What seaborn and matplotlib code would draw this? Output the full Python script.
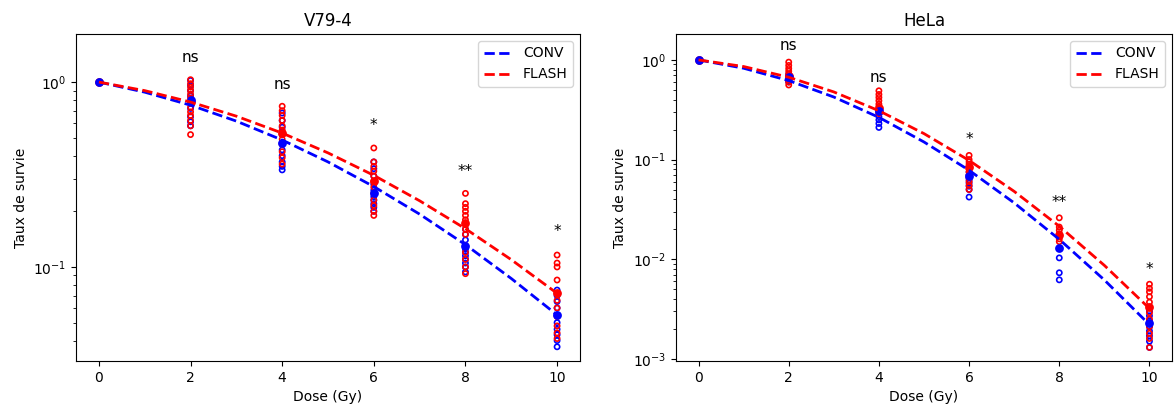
import matplotlib
matplotlib.use("Agg")
import matplotlib.pyplot as plt
import seaborn as sns
import pandas as pd
import numpy as np

# ---------------- data ----------------
doses_fit = [0, 1, 2, 3, 4, 5, 6, 7, 8, 9, 10]
dose_pts = [2, 4, 6, 8, 10]

# V79-4 fitted curves
v79_conv_fit = [1.0, 0.882, 0.750, 0.615, 0.486, 0.370, 0.272, 0.193, 0.132, 0.0866, 0.055]
v79_flash_fit = [1.0, 0.899, 0.780, 0.654, 0.530, 0.414, 0.313, 0.228, 0.161, 0.1095, 0.072]

# V79-4 individual points
v79_conv_pts = {
    2: [1.02, 0.96, 0.90, 0.84, 0.78, 0.72, 0.65, 0.61, 0.58],
    4: [0.68, 0.62, 0.57, 0.52, 0.47, 0.43, 0.40, 0.37, 0.35, 0.335],
    6: [0.37, 0.34, 0.31, 0.28, 0.26, 0.24, 0.23, 0.22, 0.21, 0.20],
    8: [0.16, 0.15, 0.14, 0.13, 0.125, 0.12, 0.115, 0.11, 0.105, 0.10, 0.094],
    10: [0.075, 0.07, 0.065, 0.06, 0.055, 0.05, 0.046, 0.043, 0.040, 0.037],
}
v79_flash_pts = {
    2: [1.03, 0.98, 0.94, 0.90, 0.86, 0.82, 0.77, 0.73, 0.69, 0.66, 0.62, 0.58, 0.52],
    4: [0.74, 0.70, 0.66, 0.62, 0.58, 0.55, 0.52, 0.49, 0.46, 0.42, 0.39, 0.36],
    6: [0.44, 0.37, 0.35, 0.33, 0.31, 0.29, 0.27, 0.25, 0.23, 0.215, 0.20, 0.19],
    8: [0.25, 0.22, 0.21, 0.20, 0.19, 0.18, 0.17, 0.16, 0.15, 0.13, 0.12, 0.11, 0.10, 0.092],
    10: [0.116, 0.105, 0.100, 0.085, 0.072, 0.066, 0.060, 0.054, 0.048, 0.044, 0.041],
}
v79_conv_mean = [1.0, 0.80, 0.47, 0.25, 0.13, 0.055]
v79_flash_mean = [1.0, 0.78, 0.53, 0.29, 0.173, 0.072]

# HeLa fitted curves
hela_conv_fit = [1.0, 0.825, 0.620, 0.424, 0.265, 0.150, 0.078, 0.0367, 0.0158, 0.00618, 0.0022]
hela_flash_fit = [1.0, 0.858, 0.670, 0.477, 0.309, 0.182, 0.098, 0.0479, 0.0214, 0.00866, 0.0032]

hela_conv_pts = {
    2: [0.72, 0.68, 0.65, 0.62, 0.60],
    4: [0.31, 0.29, 0.27, 0.25, 0.23, 0.21],
    6: [0.075, 0.070, 0.066, 0.062, 0.058, 0.054, 0.050, 0.042],
    8: [0.0128, 0.0103, 0.0073, 0.0062],
    10: [0.0030, 0.0027, 0.0024, 0.0021, 0.0019, 0.0017, 0.0015, 0.0013],
}
hela_flash_pts = {
    2: [0.95, 0.88, 0.82, 0.77, 0.72, 0.68, 0.64, 0.60, 0.56],
    4: [0.49, 0.45, 0.42, 0.39, 0.36, 0.34, 0.32, 0.30, 0.29],
    6: [0.11, 0.10, 0.095, 0.09, 0.085, 0.08, 0.075, 0.07, 0.065, 0.06, 0.055, 0.05],
    8: [0.026, 0.021, 0.0195, 0.018, 0.017, 0.016, 0.015],
    10: [0.0056, 0.0051, 0.0047, 0.0042, 0.0037, 0.0033, 0.0029, 0.0025, 0.0021, 0.0018, 0.0016, 0.0013],
}
hela_conv_mean = [1.0, 0.67, 0.31, 0.069, 0.0128, 0.0023]
hela_flash_mean = [1.0, 0.69, 0.33, 0.085, 0.0175, 0.0033]

mean_doses = [0, 2, 4, 6, 8, 10]

# significance annotations
v79_sig = ["ns", "ns", "*", "**", "*"]
v79_sig_y = [1.36, 0.97, 0.58, 0.33, 0.155]
hela_sig = ["ns", "ns", "*", "**", "*"]
hela_sig_y = [1.38, 0.67, 0.158, 0.037, 0.0078]

titles = ["V79-4", "HeLa"]
ylims = [(0.031, 1.82), (0.00095, 1.82)]

BLUE = "#0000ff"
RED = "#ff0000"

# ---------------- plotting ----------------
fig = plt.figure(figsize=(11.76, 4.07), dpi=100)
ax1 = fig.add_axes([76 / 1176, 46 / 407, 504 / 1176, 327 / 407])
ax2 = fig.add_axes([676 / 1176, 46 / 407, 496 / 1176, 327 / 407])


def pts_df(d):
    rows = [(k, v) for k, vals in d.items() for v in vals]
    return pd.DataFrame(rows, columns=["dose", "surv"])


def panel(ax, title, conv_fit, flash_fit, conv_pts, flash_pts, conv_mean, flash_mean,
          sig, sig_y, ylim):
    ax.set_yscale("log")
    sns.scatterplot(data=pts_df(conv_pts), x="dose", y="surv", ax=ax, marker="o",
                    facecolors="none", edgecolor=BLUE, linewidth=1.2, s=14, legend=False)
    sns.scatterplot(data=pts_df(flash_pts), x="dose", y="surv", ax=ax, marker="o",
                    facecolors="none", edgecolor=RED, linewidth=1.2, s=14, legend=False)
    sns.scatterplot(x=mean_doses, y=flash_mean, ax=ax, color=RED, s=40,
                    edgecolor=RED, linewidth=0, legend=False, zorder=3)
    sns.scatterplot(x=mean_doses, y=conv_mean, ax=ax, color=BLUE, s=40,
                    edgecolor=BLUE, linewidth=0, legend=False, zorder=3)
    sns.lineplot(x=doses_fit, y=conv_fit, ax=ax, color=BLUE, linestyle="--", lw=2,
                 label="CONV", zorder=4)
    sns.lineplot(x=doses_fit, y=flash_fit, ax=ax, color=RED, linestyle="--", lw=2,
                 label="FLASH", zorder=4)
    for d, t, y in zip(dose_pts, sig, sig_y):
        ax.text(d, y, t, ha="center", va="center", fontsize=11)
    ax.set_xlim(-0.5, 10.5)
    ax.set_ylim(*ylim)
    ax.set_xticks([0, 2, 4, 6, 8, 10])
    ax.set_title(title, fontsize=12)
    ax.set_xlabel("Dose (Gy)")
    ax.set_ylabel("Taux de survie")
    ax.legend(loc="upper right", fontsize=10)


panel(ax1, titles[0], v79_conv_fit, v79_flash_fit, v79_conv_pts, v79_flash_pts,
      v79_conv_mean, v79_flash_mean, v79_sig, v79_sig_y, ylims[0])
panel(ax2, titles[1], hela_conv_fit, hela_flash_fit, hela_conv_pts, hela_flash_pts,
      hela_conv_mean, hela_flash_mean, hela_sig, hela_sig_y, ylims[1])

fig.savefig("out.png", dpi=100)
